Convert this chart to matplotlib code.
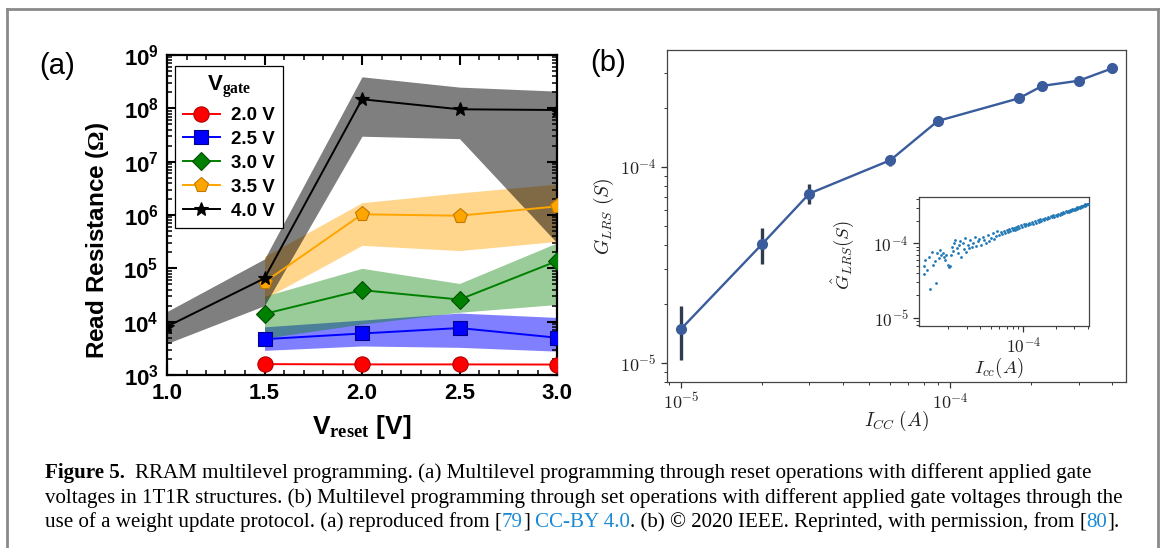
import numpy as np
import matplotlib
matplotlib.use('Agg')
import matplotlib.pyplot as plt
from matplotlib.lines import Line2D
from matplotlib.ticker import MultipleLocator, LogLocator, FuncFormatter, NullFormatter

plt.rcParams['font.family'] = ['Liberation Sans', 'DejaVu Sans']
plt.rcParams['font.weight'] = 'bold'
plt.rcParams['axes.labelweight'] = 'bold'
plt.rcParams['mathtext.fontset'] = 'custom'
plt.rcParams['mathtext.rm'] = 'Liberation Serif'
plt.rcParams['mathtext.it'] = 'Liberation Serif:italic'
plt.rcParams['mathtext.bf'] = 'Liberation Sans:bold'

W, H = 1165, 548

# ---- panel (a): read resistance vs reset voltage ----
vr_black = [1.0, 1.5, 2.0, 2.5, 3.0]
vr = [1.5, 2.0, 2.5, 3.0]
r_20 = [1.6e3, 1.58e3, 1.58e3, 1.57e3]
r_25 = [4.7e3, 6.0e3, 7.6e3, 5.0e3]
r_25_lo = [2.9e3, 3.5e3, 3.3e3, 2.8e3]
r_25_hi = [8.0e3, 1.07e4, 1.45e4, 1.2e4]
r_30 = [1.4e4, 3.9e4, 2.6e4, 1.37e5]
r_30_lo = [4.9e3, 9.0e3, 1.5e4, 2.1e4]
r_30_hi = [3.0e4, 1.0e5, 5.2e4, 3.0e5]
r_35 = [5.5e4, 1.03e6, 9.7e5, 1.45e6]
r_35_lo = [2.7e4, 2.7e5, 2.15e5, 3.2e5]
r_35_hi = [1.66e5, 1.7e6, 2.6e6, 3.8e6]
r_40 = [8.1e3, 6.5e4, 1.48e8, 9.6e7, 9.3e7]
r_40_lo = [3.9e3, 2.0e4, 3.0e7, 2.7e7, 3.0e5]
r_40_hi = [1.55e4, 1.5e5, 3.9e8, 2.5e8, 2.1e8]
gate_labels = ['2.0 V', '2.5 V', '3.0 V', '3.5 V', '4.0 V']

# ---- panel (b): LRS conductance vs compliance current ----
icc = [1e-5, 2e-5, 3e-5, 6e-5, 9e-5, 1.8e-4, 2.2e-4, 3e-4, 4e-4]
g_lrs = [1.49e-5, 4.03e-5, 7.3e-5, 1.08e-4, 1.71e-4, 2.23e-4, 2.58e-4, 2.74e-4, 3.17e-4]
g_err = [4.5e-6, 8.3e-6, 8.7e-6, 7e-6, 1.0e-5, 5e-6, 1.3e-5, 6e-6, 1.8e-5]

# inset scatter, in uA / uS
inset_icc_uA = [11.8, 12.0, 12.3, 12.7, 13.2, 13.6, 14.2, 14.5, 15.0, 15.5, 15.8, 16.5, 16.7,
                17.3, 17.9, 18.3, 18.7, 19.2, 19.8, 20.3, 20.7, 21.3, 21.7, 22.3, 22.8, 23.3,
                24.0, 24.6, 25.4, 25.9, 26.4, 27.2, 28.0, 28.6, 29.5, 30.4, 31.3, 32.2, 33.2,
                34.0, 35.5, 36.5, 38.0, 39.0, 40.5, 42.0, 43.5, 45.0, 46.5, 48.0, 50.0, 52.0,
                53.5, 55.5, 57.5,
                60, 62, 64, 66, 68, 70, 72, 74, 76, 78, 80, 82, 84, 86, 88, 90, 92, 95, 98,
                101, 104, 107, 110, 113, 116, 120, 124, 128, 132, 136, 140, 144, 148, 152,
                156, 160, 165, 170, 175, 180, 185, 190, 195, 200, 206, 212, 218, 224, 230,
                236, 242, 248, 254, 260, 266, 272, 278, 284, 290, 296, 302, 308, 314, 320,
                326, 332, 338, 344, 350, 356, 362, 368, 374, 380, 386, 392, 398, 402]
inset_g_uS = [39, 49, 60, 44, 66, 24.5, 77, 51, 57, 29, 73, 63, 81,
              70, 75, 66, 60, 70, 51, 48, 50, 70, 90, 78, 100, 111,
              87, 73, 95, 109, 66, 102, 84, 117, 77, 95, 87, 111, 90,
              100, 120, 92, 106, 113, 95, 123, 111, 102, 128, 106, 117, 136,
              113, 125, 146,
              128, 142, 133, 147, 139, 151, 141, 156, 146, 160, 150, 162, 153, 168, 158, 171, 160, 176, 166,
              180, 170, 183, 176, 190, 180, 193, 184, 198, 190, 204, 196, 210, 201, 214,
              206, 220, 211, 226, 218, 232, 224, 238, 229, 243, 235, 250, 241, 255, 248,
              262, 254, 268, 260, 274, 266, 280, 272, 286, 279, 292, 285, 298, 291, 304,
              297, 310, 303, 316, 309, 322, 315, 328, 321, 334, 327, 340, 333, 338]


def fig_rect(left, top, right, bottom):
    return [left / W, 1 - bottom / H, (right - left) / W, (bottom - top) / H]


fig = plt.figure(figsize=(W / 100, H / 100), dpi=100)

# ---------------- panel (a) ----------------
axa = fig.add_axes(fig_rect(167, 55, 557, 375))
bands = [
    (vr, r_25_lo, r_25_hi, 'blue', 0.5),
    (vr, r_30_lo, r_30_hi, 'green', 0.4),
    (vr, r_35_lo, r_35_hi, '#ffa500', 0.45),
    (vr_black, r_40_lo, r_40_hi, 'black', 0.5),
]
for xs, lo, hi, c, a in bands:
    axa.fill_between(xs, lo, hi, color=c, alpha=a, lw=0, zorder=1)

styles = [
    (vr, r_20, 'red', 'o', 'red', '#b00000', 11),
    (vr, r_25, 'blue', 's', 'blue', '#00008b', 10),
    (vr, r_30, 'green', 'D', 'green', '#004d00', 9.5),
    (vr, r_35, '#ffa500', 'p', '#ffa500', '#c07800', 11),
    (vr_black, r_40, 'black', '*', 'black', 'black', 10),
]
for (xs, ys, c, m, fc, ec, ms), lab in zip(styles, gate_labels):
    axa.plot(xs, ys, color=c, lw=1.4, marker=m, ms=ms, mfc=fc, mec=ec, mew=0.8,
             label=lab, zorder=3)

axa.set_xlim(1.0, 3.0)
axa.set_yscale('log')
axa.set_ylim(1e3, 1e9)
axa.xaxis.set_major_locator(MultipleLocator(0.5))
axa.xaxis.set_minor_locator(MultipleLocator(0.1))
axa.xaxis.set_major_formatter(FuncFormatter(lambda v, p: '%.1f' % v))
axa.yaxis.set_major_locator(LogLocator(base=10, numticks=20))
axa.yaxis.set_minor_locator(LogLocator(base=10, subs=np.arange(2, 10), numticks=100))
axa.yaxis.set_minor_formatter(NullFormatter())
axa.yaxis.set_major_formatter(FuncFormatter(
    lambda v, p: r'$\mathbf{10^{%d}}$' % int(round(np.log10(v)))))
axa.tick_params(which='both', direction='in', top=True, right=True, labelsize=16)
axa.tick_params(axis='y', which='major', pad=6)
axa.tick_params(axis='x', which='major', pad=6)
axa.tick_params(which='major', length=7, width=1.5)
axa.tick_params(which='minor', length=3.5, width=1.1)
for s in axa.spines.values():
    s.set_linewidth(1.6)
axa.set_ylabel(r'Read Resistance ($\Omega$)', fontsize=17.5)
axa.yaxis.set_label_coords(-0.143, 0.42)
axa.set_xlabel(r'V$_{\mathrm{reset}}$ [V]', fontsize=19)
axa.xaxis.set_label_coords(0.5, -0.12)

leg = axa.legend(loc='upper left', bbox_to_anchor=(0.02, 0.966), borderaxespad=0,
                 title=r'V$_{\mathrm{gate}}$', title_fontproperties={'weight': 'bold', 'size': 16},
                 prop={'weight': 'bold', 'size': 13.5}, fancybox=False, framealpha=1,
                 edgecolor='black', handlelength=2.0, handletextpad=0.6,
                 labelspacing=0.36, borderpad=0.42)
leg.get_frame().set_linewidth(0.9)

fig.text(57 / W, 1 - 66 / H, '(a)', fontsize=21, fontweight='normal', ha='center', va='center')

# ---------------- panel (b) ----------------
blue_line = '#3a5c9c'
axb = fig.add_axes(fig_rect(667, 50, 1126, 382))
axb.errorbar(icc, g_lrs, yerr=g_err, fmt='-o', color=blue_line, ecolor='#2e3c4e',
             elinewidth=2.4, capsize=0, ms=7, lw=1.7, zorder=3)
axb.set_xscale('log')
axb.set_yscale('log')
axb.set_xlim(8.87e-6, 4.5e-4)
axb.set_ylim(8e-6, 3.93e-4)


def cm_ticks(ax, xt, xl, yt, yl, size):
    ax.set_xticks(xt, labels=xl)
    ax.set_yticks(yt, labels=yl)
    for t in ax.get_xticklabels() + ax.get_yticklabels():
        t.set_math_fontfamily('cm')
        t.set_fontsize(size)
        t.set_color('#222222')
    ax.xaxis.set_minor_locator(LogLocator(base=10, subs=np.arange(2, 10), numticks=100))
    ax.yaxis.set_minor_locator(LogLocator(base=10, subs=np.arange(2, 10), numticks=100))
    ax.xaxis.set_minor_formatter(NullFormatter())
    ax.yaxis.set_minor_formatter(NullFormatter())
    ax.tick_params(which='both', direction='out', color='#333333')
    ax.tick_params(which='major', length=4.5, width=0.9, pad=3)
    ax.tick_params(which='minor', length=2.5, width=0.7)
    for s in ax.spines.values():
        s.set_linewidth(0.9)
        s.set_color('#444444')


cm_ticks(axb, [1e-5, 1e-4], [r'$10^{-5}$', r'$10^{-4}$'],
         [1e-5, 1e-4], [r'$10^{-5}$', r'$10^{-4}$'], 13)
axb.set_xlabel(r'$I_{CC}\ (A)$', math_fontfamily='cm', fontsize=14, color='#222222')
axb.xaxis.set_label_coords(0.5, -0.082)
axb.set_ylabel(r'$G_{LRS}\ (S)$', math_fontfamily='cm', fontsize=14, color='#222222')
axb.yaxis.set_label_coords(-0.112, 0.5)

fig.text(608 / W, 1 - 63 / H, '(b)', fontsize=21, fontweight='normal', ha='center', va='center')

# inset
axi = fig.add_axes(fig_rect(919, 197, 1089, 326))
axi.scatter(np.array(inset_icc_uA) * 1e-6, np.array(inset_g_uS) * 1e-6, s=4,
            color='#1f77b4', linewidths=0, zorder=3)
axi.set_xscale('log')
axi.set_yscale('log')
axi.set_xlim(1.07e-5, 4.1e-4)
axi.set_ylim(7.7e-6, 4.2e-4)
cm_ticks(axi, [1e-4], [r'$10^{-4}$'], [1e-5, 1e-4], [r'$10^{-5}$', r'$10^{-4}$'], 12.5)
axi.set_xlabel(r'$I_{cc}(A)$', math_fontfamily='cm', fontsize=13.5, color='#222222')
axi.xaxis.set_label_coords(0.47, -0.23)
axi.set_ylabel(r'$\hat{G}_{LRS}(S)$', math_fontfamily='cm', fontsize=13.5, color='#222222')
axi.yaxis.set_label_coords(-0.37, 0.55)

# ---------------- page frame ----------------
frame_c = '#8a8a8a'
fig.add_artist(Line2D([7 / W, 1158 / W], [1 - 9 / H, 1 - 9 / H], transform=fig.transFigure,
                      color=frame_c, lw=2))
fig.add_artist(Line2D([7 / W, 7 / W], [0, 1 - 9 / H], transform=fig.transFigure,
                      color=frame_c, lw=2))
fig.add_artist(Line2D([1158 / W, 1158 / W], [0, 1 - 9 / H], transform=fig.transFigure,
                      color=frame_c, lw=2))

# ---------------- caption ----------------
ref_c = '#1a8ad4'
SP = None
cap_lines = [
    [('Figure 5.', 'bold', 'black'), SP, SP,
     ('RRAM multilevel programming. (a) Multilevel programming through reset operations with different applied gate', 'normal', 'black')],
    [('voltages in 1T1R structures. (b) Multilevel programming through set operations with different applied gate voltages through the', 'normal', 'black')],
    [('use of a weight update protocol. (a) reproduced from', 'normal', 'black'), SP,
     ('[', 'normal', 'black'), ('79', 'normal', ref_c), (']', 'normal', 'black'), SP,
     ('CC-BY 4.0', 'normal', ref_c), ('. (b) \u00a9 2020 IEEE. Reprinted, with permission, from', 'normal', 'black'), SP,
     ('[', 'normal', 'black'), ('80', 'normal', ref_c), (']', 'normal', 'black'), ('.', 'normal', 'black')],
]
cap_base = [478, 502.5, 527]
renderer = fig.canvas.get_renderer()


def text_width(s, size, weight):
    t = fig.text(0, 0, s, fontsize=size, fontweight=weight, family='Liberation Serif')
    w = t.get_window_extent(renderer=renderer).width
    t.remove()
    return w


probe = 10.0
w2 = text_width(cap_lines[1][0][0], probe, 'normal')
cap_size = probe * (1118 - 45) / w2
space_w = text_width('a a', cap_size, 'normal') - text_width('aa', cap_size, 'normal')

for segs, yb in zip(cap_lines, cap_base):
    x = 45.0
    for seg in segs:
        if seg is None:
            x += space_w
            continue
        s, wgt, col = seg
        t = fig.text(x / W, 1 - yb / H, s, fontsize=cap_size, fontweight=wgt, color=col,
                     family='Liberation Serif', ha='left', va='baseline')
        x += t.get_window_extent(renderer=renderer).width

fig.savefig('out.png', dpi=100)
